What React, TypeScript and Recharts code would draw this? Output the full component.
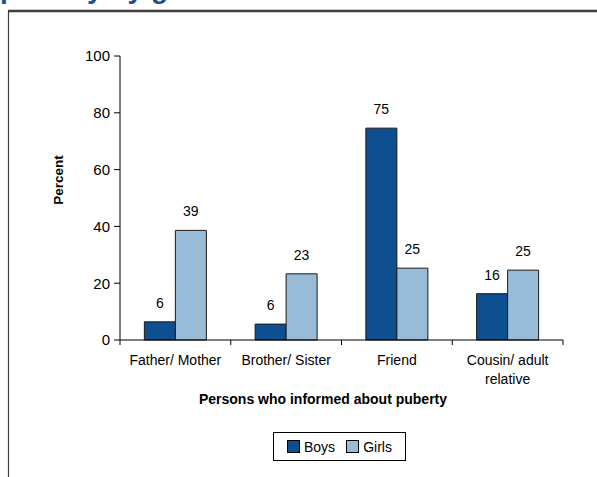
import { BarChart, Bar, XAxis, YAxis, LabelList } from "recharts"

const categories = ["Father/ Mother", "Brother/ Sister", "Friend", "Cousin/ adult relative"]
const tickLabels = [["Father/ Mother"], ["Brother/ Sister"], ["Friend"], ["Cousin/ adult", "relative"]]
const boys = [6.4, 5.6, 74.6, 16.3]
const girls = [38.6, 23.3, 25.3, 24.6]
const yTicks = [0, 20, 40, 60, 80, 100]
const seriesNames = ["Boys", "Girls"]
const seriesColors = ["#0D4F8F", "#98BCD7"]

const data = categories.map((name, i) => ({ name, boys: boys[i], girls: girls[i] }))

const W = 597
const H = 477
const FONT = "'Liberation Sans', Arial, sans-serif"
const margin = { top: 56, right: 34, left: 0, bottom: 77 }
const yAxisWidth = 120
const xAxisHeight = 60
const band = (W - yAxisWidth - margin.right) / categories.length

function CategoryTick(props: any) {
  const { x, y, payload, index } = props
  const lines = tickLabels[index] ?? [payload.value]
  const last = index === categories.length - 1
  return (
    <g>
      <line x1={x - band / 2} x2={x - band / 2} y1={y} y2={y + 5} stroke="#000" />
      {last && <line x1={x + band / 2} x2={x + band / 2} y1={y} y2={y + 5} stroke="#000" />}
      <text x={x} y={y + 25} textAnchor="middle" fill="#000" fontSize={14} fontFamily={FONT}>
        {lines.map((l: string, i: number) => (
          <tspan key={i} x={x} dy={i === 0 ? 0 : 19}>{l}</tspan>
        ))}
      </text>
    </g>
  )
}

export default function App() {
  return (
    <div style={{ position: "absolute", left: 0, top: 0, width: W, height: H, overflow: "hidden", background: "#fff", fontFamily: FONT }}>
      <svg width={W} height={H} style={{ position: "absolute", left: 0, top: 0 }}>
        <text x={0} y={-2} fontSize={28} fontWeight="bold" fill="#1C4F8F" fontFamily={FONT}>puberty by gender</text>
        <line x1={8} x2={W} y1={11} y2={11} stroke="#404040" strokeWidth={2.5} />
        <line x1={8.5} x2={8.5} y1={11} y2={H} stroke="#404040" strokeWidth={1.2} />
        <text x={58} y={180} transform="rotate(-90 58 180)" textAnchor="middle" dominantBaseline="central" fontSize={13.5} fontWeight="bold" fill="#000" fontFamily={FONT}>Percent</text>
        <text x={323} y={399} textAnchor="middle" dominantBaseline="central" fontSize={14} fontWeight="bold" fill="#000" fontFamily={FONT}>Persons who informed about puberty</text>
      </svg>
      <div style={{ position: "absolute", left: 0, top: 0 }}>
        <BarChart width={W} height={H} data={data} margin={margin} barCategoryGap="22%" barGap={0}>
          <XAxis
            dataKey="name"
            height={xAxisHeight}
            tickLine={false}
            tickSize={0}
            tickMargin={0}
            axisLine={{ stroke: "#000" }}
            tick={<CategoryTick />}
            interval={0}
          />
          <YAxis
            width={yAxisWidth}
            domain={[0, 100]}
            ticks={yTicks}
            tickSize={6}
            tickMargin={4}
            axisLine={{ stroke: "#000" }}
            tickLine={{ stroke: "#000" }}
            tick={{ fill: "#000", fontSize: 15, fontFamily: FONT }}
          />
          {["boys", "girls"].map((k, i) => (
            <Bar key={k} dataKey={k} name={seriesNames[i]} fill={seriesColors[i]} stroke="#1a1a1a" strokeWidth={1} isAnimationActive={false}>
              <LabelList dataKey={k} position="top" offset={14} formatter={(v: any) => Math.round(Number(v))} fill="#000" fontSize={14} fontFamily={FONT} />
            </Bar>
          ))}
        </BarChart>
      </div>
      <div style={{ position: "absolute", left: 273, top: 432, width: 131, height: 27, border: "1.5px solid #000", display: "flex", alignItems: "center", fontSize: 14, color: "#000" }}>
        {seriesNames.map((n, i) => (
          <div key={n} style={{ display: "flex", alignItems: "center", marginLeft: i === 0 ? 13 : 11 }}>
            <span style={{ width: 11, height: 11, background: seriesColors[i], border: "1px solid #000", display: "inline-block", marginRight: 4 }} />
            <span>{n}</span>
          </div>
        ))}
      </div>
    </div>
  )
}
